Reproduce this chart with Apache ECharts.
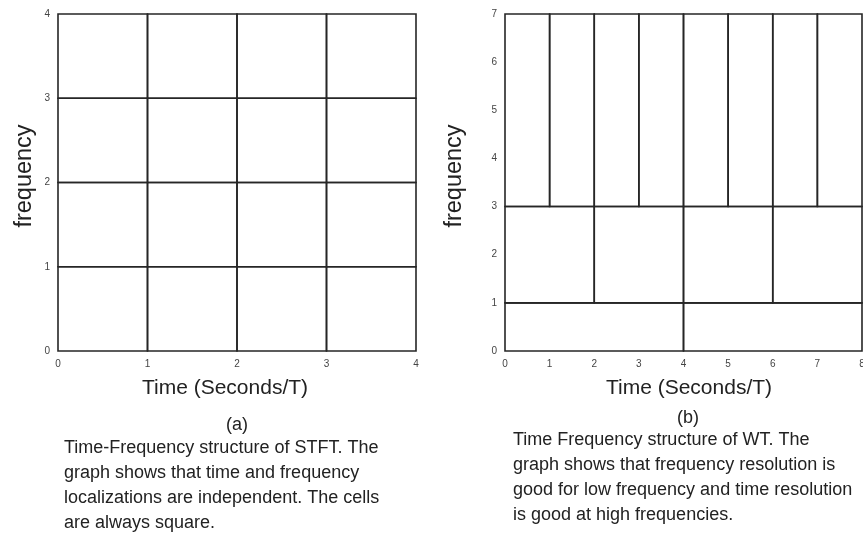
<!DOCTYPE html>
<html><head><meta charset="utf-8">
<script src="https://cdn.jsdelivr.net/npm/echarts@6/dist/echarts.min.js"></script>
<style>html,body{margin:0;padding:0;background:#fff}#c{width:863px;height:533px}</style>
</head><body><div id="c"></div>
<script>
// STFT cells: [x0, x1, y0, y1]
const stftCells = [
  [0,1,0,1],[1,2,0,1],[2,3,0,1],[3,4,0,1],
  [0,1,1,2],[1,2,1,2],[2,3,1,2],[3,4,1,2],
  [0,1,2,3],[1,2,2,3],[2,3,2,3],[3,4,2,3],
  [0,1,3,4],[1,2,3,4],[2,3,3,4],[3,4,3,4]
];
// WT cells: [x0, x1, y0, y1]
const wtCells = [
  [0,4,0,1],[4,8,0,1],
  [0,2,1,3],[2,4,1,3],[4,6,1,3],[6,8,1,3],
  [0,1,3,7],[1,2,3,7],[2,3,3,7],[3,4,3,7],[4,5,3,7],[5,6,3,7],[6,7,3,7],[7,8,3,7]
];
const xNameText = 'Time (Seconds/T)';
const yNameText = 'frequency';
const captionA = '(a)';
const captionB = '(b)';
const descA = ['Time-Frequency structure of STFT. The','graph shows that time and frequency','localizations are independent. The cells','are always square.'];
const descB = ['Time Frequency structure of WT. The','graph shows that frequency resolution is','good for low frequency and time resolution','is good at high frequencies.'];

const FONT = '"Liberation Sans", Arial, sans-serif';
const chart = echarts.init(document.getElementById('c'), null, {renderer:'canvas'});

function renderCell(params, api){
  const p0 = api.coord([api.value(0), api.value(2)]);
  const p1 = api.coord([api.value(1), api.value(3)]);
  return {
    type:'rect',
    shape:{x:Math.min(p0[0],p1[0]), y:Math.min(p0[1],p1[1]), width:Math.abs(p1[0]-p0[0]), height:Math.abs(p1[1]-p0[1])},
    style:{fill:'none', stroke:'#262626', lineWidth:1.6}
  };
}
const axisLabel = {color:'#444', fontSize:10, fontFamily:FONT};
function xAxis(gi, max){
  return {type:'value', gridIndex:gi, min:0, max:max, interval:1,
    axisLine:{show:false}, axisTick:{show:false}, splitLine:{show:false},
    axisLabel:Object.assign({margin:8}, axisLabel)};
}
function yAxis(gi, max){
  return {type:'value', gridIndex:gi, min:0, max:max, interval:1,
    axisLine:{show:false}, axisTick:{show:false}, splitLine:{show:false},
    axisLabel:Object.assign({margin:8}, axisLabel)};
}
function txt(t, x, y, size, align, rot){
  return {type:'text', x:x, y:y, rotation:rot||0,
    style:{text:t, font:size+'px '+FONT, fill:'#222', textAlign:align, textVerticalAlign:'middle'}};
}
function textLines(lines, x, y0, dy){
  return lines.map((t,i)=>txt(t, x, y0+i*dy, 18, 'left'));
}
chart.setOption({
  animation:false,
  grid:[
    {left:58, top:14, width:358, height:337, outerBoundsMode:'none', containLabel:false},
    {left:505, top:14, width:357, height:337, outerBoundsMode:'none', containLabel:false}
  ],
  xAxis:[xAxis(0,4), xAxis(1,8)],
  yAxis:[yAxis(0,4), yAxis(1,7)],
  series:[
    {type:'custom', xAxisIndex:0, yAxisIndex:0, renderItem:renderCell, data:stftCells, silent:true},
    {type:'custom', xAxisIndex:1, yAxisIndex:1, renderItem:renderCell, data:wtCells, silent:true}
  ],
  graphic:[
    txt(xNameText, 225, 388, 21, 'center'),
    txt(xNameText, 689, 388, 21, 'center'),
    txt(yNameText, 25, 176, 23.5, 'center', Math.PI/2),
    txt(yNameText, 455, 176, 23.5, 'center', Math.PI/2),
    txt(captionA, 237, 425, 18, 'center'),
    txt(captionB, 688, 418, 18, 'center')
  ].concat(textLines(descA, 64, 448.5, 24.7)).concat(textLines(descB, 513, 440.5, 25))
});
</script></body></html>
